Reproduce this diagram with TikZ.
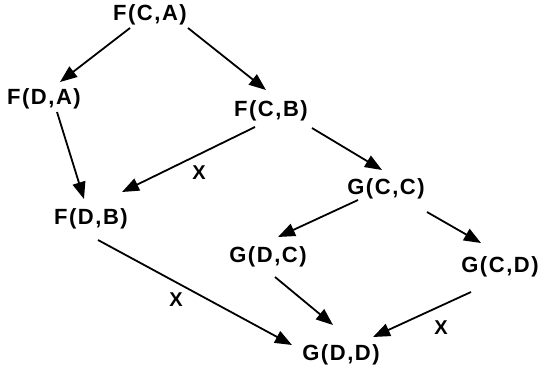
\documentclass[tikz,border=0pt]{standalone}
\usepackage{fontspec}
\setmainfont{Liberation Sans}[LetterSpace=7]
\usetikzlibrary{arrows.meta}
\begin{document}
\begin{tikzpicture}[x=1pt,y=1pt,
  term/.style={inner sep=0pt,font=\fontsize{22}{23}\selectfont\bfseries},
  lbl/.style={inner sep=0pt,font=\fontsize{20}{21}\selectfont\bfseries},
  arr/.style={line width=1.8pt,-{Triangle[length=17pt,width=13pt]}}]
\useasboundingbox (0,0) rectangle (540,-370);
\node[term] (ca) at (150,-15) {F(C,A)};
\node[term] (da) at (44,-99) {F(D,A)};
\node[term] (cb) at (271,-111) {F(C,B)};
\node[term] (db) at (91,-219) {F(D,B)};
\node[term] (cc) at (386,-189) {G(C,C)};
\node[term] (dc) at (268,-257) {G(D,C)};
\node[term] (cd) at (500,-267) {G(C,D)};
\node[term] (dd) at (341,-355) {G(D,D)};
\draw[arr] ([shift={(-20,-13)}]ca.center) -- ([shift={(16,17)}]da.center);
\draw[arr] ([shift={(38,-13)}]ca.center) -- ([shift={(-5,21)}]cb.center);
\draw[arr] ([shift={(13,-13)}]da.center) -- ([shift={(-7,20)}]db.center);
\draw[arr] ([shift={(-16,-16)}]cb.center) -- ([shift={(31,27)}]db.center);
\draw[arr] ([shift={(41,-17)}]cb.center) -- ([shift={(-4,19)}]cc.center);
\draw[arr] ([shift={(-28,-11)}]cc.center) -- ([shift={(10,20)}]dc.center);
\draw[arr] ([shift={(41,-23)}]cc.center) -- ([shift={(-19,24)}]cd.center);
\draw[arr] ([shift={(7,-20)}]dc.center) -- ([shift={(-8,30)}]dd.center);
\draw[arr] ([shift={(7,-21)}]db.center) -- ([shift={(-49,10)}]dd.center);
\draw[arr] ([shift={(-29,-25)}]cd.center) -- ([shift={(32,18)}]dd.center);
\node[lbl] (x1) at (199,-173) {X};
\node[lbl] (x2) at (176,-300) {X};
\node[lbl] (x3) at (441,-328) {X};
\end{tikzpicture}
\end{document}
